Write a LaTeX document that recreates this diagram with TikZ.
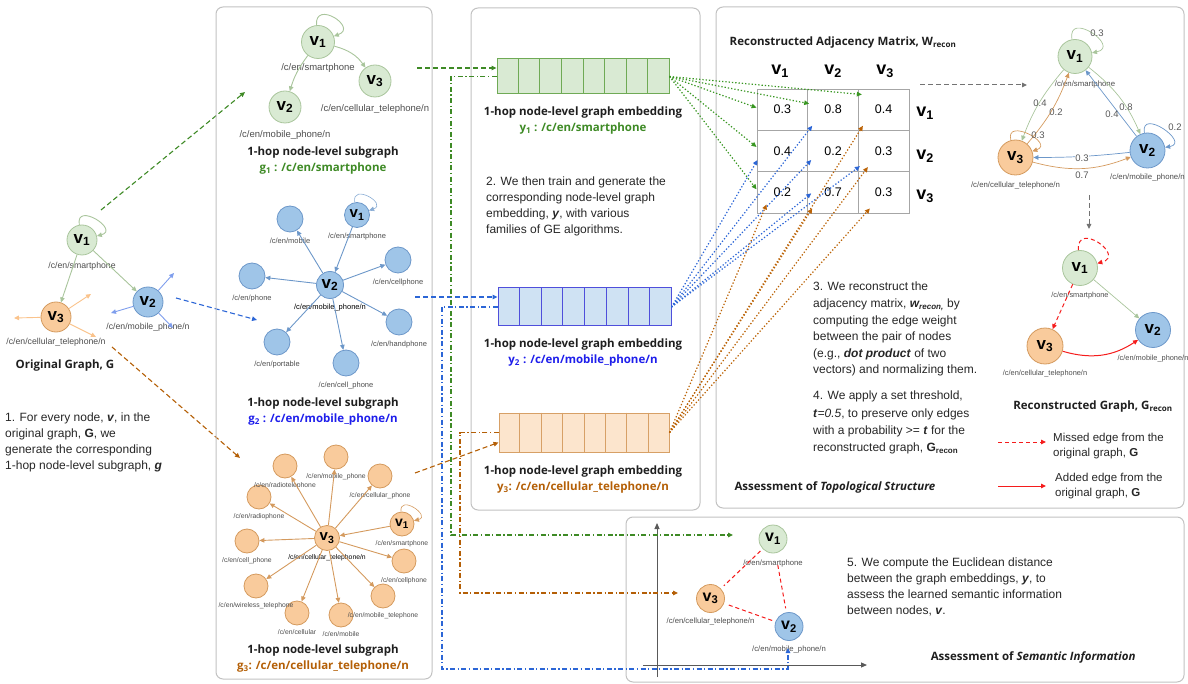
\documentclass[tikz,border=0pt]{standalone}
\usepackage{fontspec}
\setmainfont{Liberation Sans}
\newfontfamily\osans{Open Sans}
\usepackage{tikz}
\usetikzlibrary{arrows.meta, calc, positioning}

% colours
\definecolor{panelgray}{HTML}{C2C2C2}
\definecolor{gfill}{HTML}{D9EAD3}
\definecolor{gline}{HTML}{A9C59C}
\definecolor{gdark}{HTML}{3E8A25}
\definecolor{bfill}{HTML}{9FC5E8}
\definecolor{bline}{HTML}{6C97C9}
\definecolor{bdark}{HTML}{2C66D6}
\definecolor{btext}{HTML}{1E1EEB}
\definecolor{ofill}{HTML}{F9CB9C}
\definecolor{oline}{HTML}{D49A5E}
\definecolor{odark}{HTML}{B45F06}
\definecolor{gbar}{HTML}{6FAA55}
\definecolor{bbar}{HTML}{4F4FDB}
\definecolor{obar}{HTML}{D7A066}
\definecolor{bbarfill}{HTML}{CFE2F3}
\definecolor{obarfill}{HTML}{FCE5CD}
\definecolor{redline}{HTML}{F51C1C}
\definecolor{labgray}{HTML}{4D4D4D}
\definecolor{axgray}{HTML}{595959}

\newcommand{\vx}[1]{\textbf{v}\textsubscript{\textbf{#1}}}
\newcommand{\bi}[1]{\textbf{\textit{#1}}}

\tikzset{
  arw/.style={-{Triangle[length=5pt,width=4.5pt]}},
  panel/.style={draw=panelgray, line width=1pt, rounded corners=7pt},
  vert/.style={circle, line width=0.8pt, inner sep=0pt, minimum size=30pt, font=\fontsize{17}{17}\selectfont},
  gv/.style={vert, draw=gline, fill=gfill},
  bv/.style={vert, draw=bline, fill=bfill},
  ov/.style={vert, draw=oline, fill=ofill},
  lab/.style={font=\fontsize{#1}{#1}\selectfont, text=labgray, inner sep=0pt},
  lab/.default=8,
  ttl/.style={font=\osans\bfseries\fontsize{11.5}{16}\selectfont, align=center, text=black!88},
  body/.style={font=\fontsize{12}{16}\selectfont, align=left, anchor=north west, inner sep=0pt, text=black!85},
  gedge/.style={draw=gline, line width=0.9pt, arw},
  bedge/.style={draw=bline, line width=0.9pt, arw},
  oedge/.style={draw=oline, line width=0.9pt, arw},
  dsh/.style={dash pattern=on 5pt off 3pt, line width=1.1pt, arw},
  dshdot/.style={dash pattern=on 5pt off 2.5pt on 1.2pt off 2.5pt, line width=1.1pt, arw},
  dots/.style={dash pattern=on 1.3pt off 2pt, line width=1.2pt, arw},
  cell/.style={draw=black!35, line width=0.9pt, minimum width=50.67pt, minimum height=41.33pt, inner sep=0pt, font=\fontsize{12.5}{12.5}\selectfont},
  bar/.style={line width=1pt, minimum width=172pt, minimum height=37pt, inner sep=0pt},
  wt/.style={font=\fontsize{9.5}{9.5}\selectfont, text=black!65, inner sep=0.5pt},
}

\begin{document}
\begin{tikzpicture}[x=1pt, y=1pt]
\useasboundingbox (0,0) rectangle (1188,-684);

% ---------- original graph ----------
\node[gv] (o1) at (82,-240) {\vx{1}};
\node[bv] (o2) at (148,-302) {\vx{2}};
\node[ov] (o3) at (56,-317) {\vx{3}};
\node[lab=8.7, below=7pt of o1] {/c/en/smartphone};
\node[lab=8.7, below=6pt of o2] {/c/en/mobile\_phone/n};
\node[lab=8.7, below=6pt of o3] {/c/en/cellular\_telephone/n};
\draw[gedge] (o1) -- (o3);
\draw[gedge] (o1) -- (o2);
\draw[gedge] (o1.100) .. controls +(100:24) and +(15:24) .. (o1.15);
% edges leaving the original graph
\coordinate (o3l) at (14,-318);
\coordinate (o3u) at (91,-294);
\coordinate (o3d) at (96,-337);
\coordinate (o2u) at (174,-273);
\coordinate (o2l) at (111,-313);
\coordinate (o2d) at (173,-328);
\foreach \t in {o3l,o3u,o3d} \draw[oedge, draw=ofill!90!orange] (o3) -- (\t);
\foreach \t in {o2u,o2l,o2d} \draw[bedge, draw=bfill!80!blue] (o2) -- (\t);
\node[ttl] at (65,-366) {Original Graph, G};
\node[body] at (5,-413) {1. For every node, \bi{v}, in the\\original graph, \textbf{G}, we\\generate the corresponding\\1-hop node-level subgraph, \bi{g}};

% original graph to subgraphs
\coordinate (og1) at (101,-210);
\coordinate (ag1) at (245,-92);
\coordinate (og2) at (176,-298);
\coordinate (ag2) at (257,-320);
\coordinate (og3) at (112,-347);
\coordinate (ag3) at (240,-458);
\draw[dsh, gdark] (og1) -- (ag1);
\draw[dsh, bdark] (og2) -- (ag2);
\draw[dsh, odark] (og3) -- (ag3);

% ---------- panel of subgraphs ----------
\draw[panel] (216,-7) rectangle (432,-679);

% g1
\node[gv, minimum size=33pt] (a1) at (318,-42) {\vx{1}};
\node[gv, minimum size=32pt] (a2) at (285,-107) {\vx{2}};
\node[gv, minimum size=32pt] (a3) at (375,-81) {\vx{3}};
\node[lab=9.5, below=5pt of a1] {/c/en/smartphone};
\node[lab=9.5, below=7pt of a2] {/c/en/mobile\_phone/n};
\node[lab=9.5, below=7pt of a3] {/c/en/cellular\_telephone/n};
\draw[gedge] (a1) to[bend right=10] (a2);
\draw[gedge] (a1) to[bend left=20] (a3);
\draw[gedge] (a1.95) .. controls +(95:26) and +(20:26) .. (a1.20);
\node[ttl] at (323,-161) {1-hop node-level subgraph\\\textcolor{gdark}{g\textsubscript{1} : /c/en/smartphone}};

% g2
\node[bv, minimum size=27pt] (b2) at (330,-285) {\vx{2}};
\node[bv, minimum size=25pt, font=\fontsize{15}{15}\selectfont] (b1) at (357,-215) {\vx{1}};
\node[bv, minimum size=26pt] (bmob) at (290,-219) {};
\node[bv, minimum size=26pt] (bpho) at (252,-276) {};
\node[bv, minimum size=26pt] (bcel) at (398,-260) {};
\node[bv, minimum size=26pt] (bhan) at (399,-322) {};
\node[bv, minimum size=26pt] (bpor) at (277,-342) {};
\node[bv, minimum size=26pt] (bcph) at (346,-363) {};
\node[lab=7.5, below=5pt of b1] {/c/en/smartphone};
\node[lab=7.5, below=5pt of b2, text=black] {/c/en/mobile\_phone/n};
\node[lab=7.5, below=5pt of bmob] {/c/en/mobile};
\node[lab=7.5, below=5pt of bpho] {/c/en/phone};
\node[lab=7.5, below=5pt of bcel] {/c/en/cellphone};
\node[lab=7.5, below=5pt of bhan] {/c/en/handphone};
\node[lab=7.5, below=5pt of bpor] {/c/en/portable};
\node[lab=7.5, below=5pt of bcph] {/c/en/cell\_phone};
\draw[bedge] (b1) -- (b2);
\foreach \t in {bmob,bpho,bcel,bhan,bpor,bcph} \draw[bedge] (b2) -- (\t);
\draw[bedge, line width=0.6pt, draw=bline!80] (b1.100) .. controls +(100:20) and +(20:20) .. (b1.20);
\node[ttl] at (323,-412) {1-hop node-level subgraph\\\textcolor{btext}{g\textsubscript{2} : /c/en/mobile\_phone/n}};

% g3
\node[ov, minimum size=25pt, font=\fontsize{15}{15}\selectfont] (c3) at (327,-538) {\vx{3}};
\node[ov, minimum size=24pt, font=\fontsize{14}{14}\selectfont] (c1) at (402,-524) {\vx{1}};
\node[ov, minimum size=24pt] (crad) at (285,-466) {};
\node[ov, minimum size=24pt] (cmph) at (336,-457) {};
\node[ov, minimum size=24pt] (ccph) at (380,-476) {};
\node[ov, minimum size=24pt] (crdp) at (259,-497) {};
\node[ov, minimum size=24pt] (ccel) at (247,-541) {};
\node[ov, minimum size=24pt] (cwir) at (256,-586) {};
\node[ov, minimum size=24pt] (ccll) at (297,-613) {};
\node[ov, minimum size=24pt] (cmob) at (341,-615) {};
\node[ov, minimum size=24pt] (cmtl) at (383,-596) {};
\node[ov, minimum size=24pt] (ccpn) at (404,-561) {};
\node[lab=6.8, below=3.5pt of c1] {/c/en/smartphone};
\node[lab=6.8, below=3.5pt of c3, text=black] {/c/en/cellular\_telephone/n};
\node[lab=6.8, below=3.5pt of crad] {/c/en/radiotelephone};
\node[lab=6.8, below=3.5pt of cmph] {/c/en/mobile\_phone};
\node[lab=6.8, below=3.5pt of ccph] {/c/en/cellular\_phone};
\node[lab=6.8, below=3.5pt of crdp] {/c/en/radiophone};
\node[lab=6.8, below=3.5pt of ccel] {/c/en/cell\_phone};
\node[lab=6.8, below=3.5pt of cwir] {/c/en/wireless\_telephone};
\node[lab=6.8, below=3.5pt of ccll] {/c/en/cellular};
\node[lab=6.8, below=3.5pt of cmob] {/c/en/mobile};
\node[lab=6.8, below=3.5pt of cmtl] {/c/en/mobile\_telephone};
\node[lab=6.8, below=3.5pt of ccpn] {/c/en/cellphone};
\draw[oedge] (c1) -- (c3);
\foreach \t in {crad,cmph,ccph,crdp,ccel,cwir,ccll,cmob,cmtl,ccpn} \draw[oedge] (c3) -- (\t);
\draw[oedge, line width=0.6pt] (c1.95) .. controls +(95:18) and +(15:18) .. (c1.15);
\node[ttl] at (323,-658.5) {1-hop node-level subgraph\\\textcolor{odark}{g\textsubscript{3}: /c/en/cellular\_telephone/n}};

% ---------- panel of embeddings ----------
\draw[panel] (471,-8) rectangle (700,-510);
\node[bar, draw=gbar, fill=gfill, minimum height=35pt] (e1) at (583,-76.5) {};
\node[bar, draw=bbar, fill=bbarfill, minimum width=173pt, minimum height=38pt] (e2) at (584.5,-307) {};
\node[bar, draw=obar, fill=obarfill, minimum width=170pt, minimum height=39pt] (e3) at (584,-432.5) {};
\foreach \e/\c in {e1/gbar, e2/bbar, e3/obar}
  \foreach \k in {1,...,7}
    \draw[\c, line width=0.9pt] ($(\e.north west)!\k/8!(\e.north east)$) -- ($(\e.south west)!\k/8!(\e.south east)$);
\node[ttl] at (583,-120.5) {1-hop node-level graph embedding\\\textcolor{gdark}{y\textsubscript{1} : /c/en/smartphone}};
\node[ttl] at (583,-353) {1-hop node-level graph embedding\\\textcolor{btext}{y\textsubscript{2} : /c/en/mobile\_phone/n}};
\node[ttl] at (583,-480) {1-hop node-level graph embedding\\\textcolor{odark}{y\textsubscript{3}: /c/en/cellular\_telephone/n}};
\node[body] at (486,-177) {2. We then train and generate the\\corresponding node-level graph\\embedding, \bi{y}, with various\\families of GE algorithms.};

% subgraphs to embeddings
\coordinate (g1out) at (417,-68);
\coordinate (g2out) at (415,-297);
\coordinate (g3out) at (415,-473);
\draw[dsh, gdark] (g1out) -- ([yshift=8.5pt]e1.west);
\draw[dsh, bdark] (g2out) -- ([yshift=10pt]e2.west);
\draw[dsh, odark] (g3out) -- ([yshift=-10pt]e3.west);

% ---------- panel of topological structure ----------
\draw[panel] (716,-7) rectangle (1184,-508);
\node[ttl] at (843,-43) {Reconstructed Adjacency Matrix, W\textsubscript{recon}};
\foreach \r/\c/\w in {1/1/0.3, 1/2/0.8, 1/3/0.4, 2/1/0.4, 2/2/0.2, 2/3/0.3, 3/1/0.2, 3/2/0.7, 3/3/0.3}
  \node[cell] (m\r\c) at ({757+50.67*(\c-0.5)}, {-89-41.33*(\r-0.5)}) {\w};
\foreach \i/\x in {1/780, 2/833, 3/885}
  \node[font=\fontsize{18}{18}\selectfont] (col\i) at (\x,-71) {\vx{\i}};
\foreach \i/\y in {1/-113, 2/-156, 3/-196}
  \node[font=\fontsize{18}{18}\selectfont] (row\i) at (925,\y) {\vx{\i}};

% embeddings to matrix cells
\draw[dots, gdark!90!green] (e1.east) -- ([yshift=2pt]m11.west);
\draw[dots, gdark!90!green] (e1.east) -- ([xshift=2pt,yshift=6pt]m12.west);
\draw[dots, gdark!90!green] (e1.east) -- ([xshift=4pt,yshift=-6pt]m13.north west);
\draw[dots, gdark!90!green] (e1.east) -- ([yshift=4pt]m21.west);
\draw[dots, gdark!90!green] (e1.east) -- ([yshift=3pt]m31.west);
\draw[dots, bdark] (e2.east) -- ([xshift=5pt,yshift=5pt]m12.south west);
\draw[dots, bdark] (e2.east) -- ([xshift=1pt,yshift=-9pt]m21.west);
\draw[dots, bdark] (e2.east) -- ([xshift=4pt,yshift=-9pt]m22.west);
\draw[dots, bdark] (e2.east) -- ([xshift=2pt,yshift=6pt]m23.south west);
\draw[dots, bdark] (e2.east) -- ([xshift=4pt,yshift=-1pt]m32.west);
\draw[dots, odark!90!orange] (e3.east) -- ([xshift=5pt,yshift=5pt]m13.south west);
\draw[dots, odark!90!orange] (e3.east) -- ([xshift=10pt,yshift=5pt]m23.south west);
\draw[dots, odark!90!orange] (e3.east) -- ([xshift=10pt,yshift=9pt]m31.south west);
\draw[dots, odark!90!orange] (e3.east) -- ([xshift=5pt,yshift=5pt]m32.south west);
\draw[dots, odark!90!orange] (e3.east) -- ([xshift=12pt,yshift=5pt]m33.south west);

% weighted graph
\coordinate (mout) at (920,-85);
\coordinate (win) at (1027,-85);
\draw[dsh, black!55, line width=1pt] (mout) -- (win);
\node[gv, minimum size=34pt] (r1) at (1075,-56.5) {\vx{1}};
\node[bv, minimum size=35pt] (r2) at (1147.5,-150.5) {\vx{2}};
\node[ov, minimum size=35pt] (r3) at (1015.5,-157.5) {\vx{3}};
\node[lab=7.8, below=7pt of r1, xshift=10pt] {/c/en/smartphone};
\node[lab=7.8, below=5pt of r2] {/c/en/mobile\_phone/n};
\node[lab=7.8, below=6pt of r3] {/c/en/cellular\_telephone/n};
\draw[gedge, line width=0.7pt] (r1.100) .. controls +(100:30) and +(12:30) .. (r1.12);
\draw[gedge, line width=0.7pt] (r1) to[bend left=14] (r2);
\draw[bedge, line width=0.7pt] (r2) -- (r1);
\draw[gedge, line width=0.7pt] (r1) to[bend right=10] (r3);
\draw[oedge, line width=0.7pt] (r3) to[bend right=10] (r1);
\draw[oedge, line width=0.7pt] (r3.105) .. controls +(105:24) and +(20:24) .. (r3.20);
\draw[bedge, line width=0.7pt] (r2.100) .. controls +(100:26) and +(10:26) .. (r2.10);
\draw[bedge, line width=0.7pt] (r2) to[bend left=3] (r3);
\draw[oedge, line width=0.7pt] (r3) to[bend right=18] (r2);
\node[wt] at (1097,-33) {0.3};
\node[wt] at (1126,-107) {0.8};
\node[wt] at (1112,-114) {0.4};
\node[wt] at (1040,-103) {0.4};
\node[wt] at (1056,-112) {0.2};
\node[wt] at (1038,-135) {0.3};
\node[wt] at (1175,-127) {0.2};
\node[wt, fill=white] at (1082,-158) {0.3};
\node[wt, fill=white] at (1082,-175) {0.7};
\coordinate (wout) at (1089,-195);
\coordinate (rin) at (1089,-229);
\draw[dsh, black!55, line width=1pt] (wout) -- (rin);

% reconstructed graph
\node[gv, minimum size=35pt] (s1) at (1080,-268) {\vx{1}};
\node[bv, minimum size=35pt] (s2) at (1153,-330) {\vx{2}};
\node[ov, minimum size=36pt] (s3) at (1045,-346) {\vx{3}};
\node[lab=7.4, below=6pt of s1] {/c/en/smartphone};
\node[lab=7.4, below=7pt of s2] {/c/en/mobile\_phone/n};
\node[lab=7.4, below=6pt of s3] {/c/en/cellular\_telephone/n};
\draw[gedge, line width=0.7pt] (s1) -- (s2);
\draw[redline, dash pattern=on 4pt off 3pt, line width=1pt, arw] (s1) -- (s3);
\draw[redline, dash pattern=on 4pt off 3pt, line width=1pt, arw] (s1.95) .. controls +(95:30) and +(15:30) .. (s1.15);
\draw[redline, line width=1pt, arw] (s3) to[bend right=25] (s2);
\node[ttl] at (1093,-407) {Reconstructed Graph, G\textsubscript{recon}};

% legend
\coordinate (lg1a) at (998,-442);
\coordinate (lg1b) at (1046,-442);
\coordinate (lg2a) at (998,-486);
\coordinate (lg2b) at (1046,-486);
\draw[redline, dash pattern=on 4pt off 3pt, line width=1pt, arw] (lg1a) -- (lg1b);
\draw[redline, line width=1pt, arw] (lg2a) -- (lg2b);
\node[body, font=\fontsize{11.5}{15}\selectfont] at (1053,-433) {Missed edge from the\\original graph, \textbf{G}};
\node[body, font=\fontsize{11.5}{15}\selectfont] at (1055,-473) {Added edge from the\\original graph, \textbf{G}};

\node[body, font=\fontsize{12}{16.6}\selectfont] at (813,-282) {3. We reconstruct the\\adjacency matrix, \bi{w\textsubscript{recon,}} by\\computing the edge weight\\between the pair of nodes\\(e.g., \bi{dot product} of two\\vectors) and normalizing them.};
\node[body, font=\fontsize{12}{17.3}\selectfont] at (813,-391) {4. We apply a set threshold,\\\bi{t}\textit{=0.5}, to preserve only edges\\with a probability >= \bi{t} for the\\reconstructed graph, \textbf{G\textsubscript{recon}}};
\node[ttl, anchor=west] at (731,-487) {Assessment of \textit{Topological Structure}};

% ---------- panel of semantic information ----------
\draw[panel] (626,-517) rectangle (1184,-682);
\coordinate (yb) at (657,-677);
\coordinate (yt) at (657,-523);
\coordinate (xl) at (643,-665);
\coordinate (xr) at (867,-665);
\draw[axgray, line width=1pt, -{Triangle[length=6pt,width=5pt]}] (yb) -- (yt);
\draw[axgray, line width=1pt, -{Triangle[length=6pt,width=5pt]}] (xl) -- (xr);
\node[gv, minimum size=28pt, font=\fontsize{16}{16}\selectfont] (t1) at (773,-539) {\vx{1}};
\node[ov, minimum size=28pt, font=\fontsize{16}{16}\selectfont] (t3) at (710.5,-598.5) {\vx{3}};
\node[bv, minimum size=28pt, font=\fontsize{16}{16}\selectfont] (t2) at (789,-626.5) {\vx{2}};
\node[lab=7.7, below=6pt of t1] {/c/en/smartphone};
\node[lab=7.7, below=5pt of t3] {/c/en/cellular\_telephone/n};
\node[lab=7.7, below=5pt of t2] {/c/en/mobile\_phone/n};
\draw[redline, dash pattern=on 4pt off 3pt, line width=1pt, shorten <=3pt, shorten >=4pt] (t1) -- (t3);
\draw[redline, dash pattern=on 4pt off 3pt, line width=1pt, shorten <=12pt, shorten >=4pt] (t1) -- (t2);
\draw[redline, dash pattern=on 4pt off 3pt, line width=1pt, shorten <=5pt, shorten >=2pt] (t3) -- (t2);
\node[body] at (847,-558) {5. We compute the Euclidean distance\\between the graph embeddings, \bi{y}, to\\assess the learned semantic information\\between nodes, \bi{v}.};
\node[ttl, anchor=east] at (1139,-657) {Assessment of \textit{Semantic Information}};

% embeddings to semantic space
\coordinate (gc) at (451,-535);
\coordinate (gtip) at (733,-535);
\coordinate (bc) at (442,-669);
\coordinate (btip) at (788,-648);
\coordinate (oc) at (460,-593);
\coordinate (otip) at (678,-593);
\draw[dshdot, gdark] (e1.west) -| (gc) -- (gtip);
\draw[dshdot, bdark] (e2.west) -| (bc) -| (btip);
\draw[dshdot, odark] (e3.west) -| (oc) -- (otip);
\end{tikzpicture}
\end{document}
